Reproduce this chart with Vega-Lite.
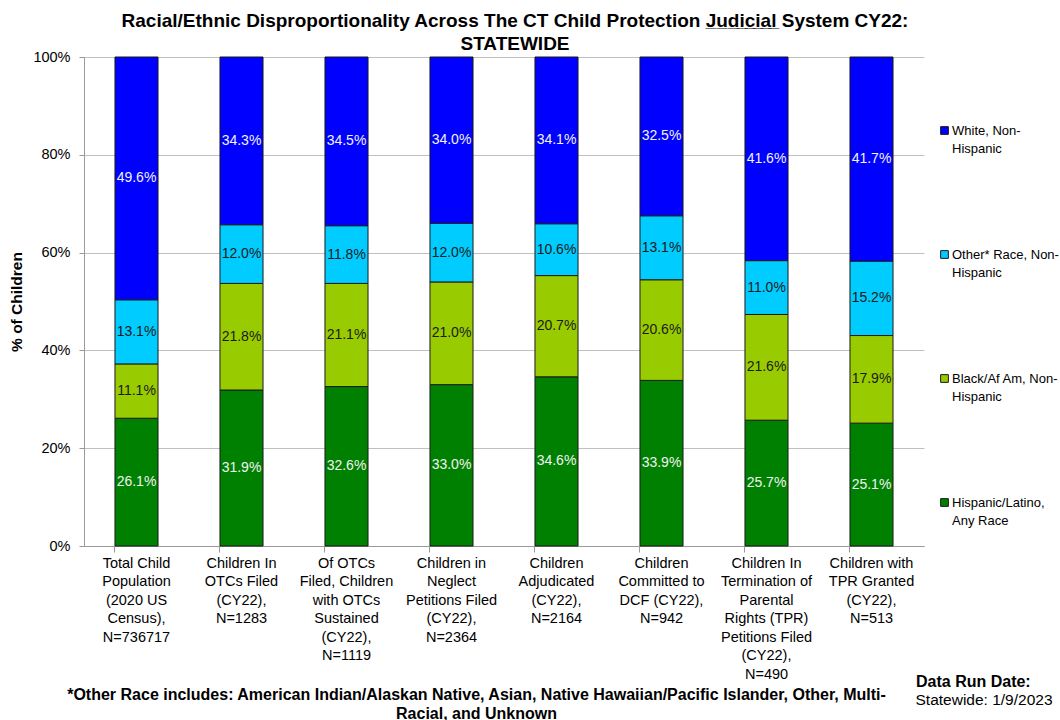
{
  "$schema": "https://vega.github.io/schema/vega-lite/v6.json",
  "autosize": "none",
  "width": 840,
  "height": 489,
  "padding": {"left": 84, "top": 57, "right": 136, "bottom": 174},
  "background": "white",
  "config": {"view": {"stroke": null}, "font": "Liberation Sans"},
  "title": {
    "text": ["Racial/Ethnic Disproportionality Across The CT Child Protection J̲u̲d̲i̲c̲i̲a̲l̲ System CY22:", "STATEWIDE"],
    "font": "Liberation Sans",
    "fontSize": 19,
    "fontWeight": "bold",
    "color": "black",
    "anchor": "middle",
    "dx": 11,
    "offset": -5,
    "lineHeight": 23
  },
  "datasets": {
    "main": [
      {"cat": "Total Child|Population|(2020 US|Census),|N=736717", "race": "Hispanic/Latino, Any Race", "share": 0.261},
      {"cat": "Total Child|Population|(2020 US|Census),|N=736717", "race": "Black/Af Am, Non-Hispanic", "share": 0.111},
      {"cat": "Total Child|Population|(2020 US|Census),|N=736717", "race": "Other* Race, Non-Hispanic", "share": 0.131},
      {"cat": "Total Child|Population|(2020 US|Census),|N=736717", "race": "White, Non-Hispanic", "share": 0.496},
      {"cat": "Children In|OTCs Filed|(CY22),|N=1283", "race": "Hispanic/Latino, Any Race", "share": 0.319},
      {"cat": "Children In|OTCs Filed|(CY22),|N=1283", "race": "Black/Af Am, Non-Hispanic", "share": 0.218},
      {"cat": "Children In|OTCs Filed|(CY22),|N=1283", "race": "Other* Race, Non-Hispanic", "share": 0.120},
      {"cat": "Children In|OTCs Filed|(CY22),|N=1283", "race": "White, Non-Hispanic", "share": 0.343},
      {"cat": "Of OTCs|Filed, Children|with OTCs|Sustained|(CY22),|N=1119", "race": "Hispanic/Latino, Any Race", "share": 0.326},
      {"cat": "Of OTCs|Filed, Children|with OTCs|Sustained|(CY22),|N=1119", "race": "Black/Af Am, Non-Hispanic", "share": 0.211},
      {"cat": "Of OTCs|Filed, Children|with OTCs|Sustained|(CY22),|N=1119", "race": "Other* Race, Non-Hispanic", "share": 0.118},
      {"cat": "Of OTCs|Filed, Children|with OTCs|Sustained|(CY22),|N=1119", "race": "White, Non-Hispanic", "share": 0.345},
      {"cat": "Children in|Neglect|Petitions Filed|(CY22),|N=2364", "race": "Hispanic/Latino, Any Race", "share": 0.330},
      {"cat": "Children in|Neglect|Petitions Filed|(CY22),|N=2364", "race": "Black/Af Am, Non-Hispanic", "share": 0.210},
      {"cat": "Children in|Neglect|Petitions Filed|(CY22),|N=2364", "race": "Other* Race, Non-Hispanic", "share": 0.120},
      {"cat": "Children in|Neglect|Petitions Filed|(CY22),|N=2364", "race": "White, Non-Hispanic", "share": 0.340},
      {"cat": "Children|Adjudicated|(CY22),|N=2164", "race": "Hispanic/Latino, Any Race", "share": 0.346},
      {"cat": "Children|Adjudicated|(CY22),|N=2164", "race": "Black/Af Am, Non-Hispanic", "share": 0.207},
      {"cat": "Children|Adjudicated|(CY22),|N=2164", "race": "Other* Race, Non-Hispanic", "share": 0.106},
      {"cat": "Children|Adjudicated|(CY22),|N=2164", "race": "White, Non-Hispanic", "share": 0.341},
      {"cat": "Children|Committed to|DCF (CY22),|N=942", "race": "Hispanic/Latino, Any Race", "share": 0.339},
      {"cat": "Children|Committed to|DCF (CY22),|N=942", "race": "Black/Af Am, Non-Hispanic", "share": 0.206},
      {"cat": "Children|Committed to|DCF (CY22),|N=942", "race": "Other* Race, Non-Hispanic", "share": 0.131},
      {"cat": "Children|Committed to|DCF (CY22),|N=942", "race": "White, Non-Hispanic", "share": 0.325},
      {"cat": "Children In|Termination of|Parental|Rights (TPR)|Petitions Filed|(CY22),|N=490", "race": "Hispanic/Latino, Any Race", "share": 0.257},
      {"cat": "Children In|Termination of|Parental|Rights (TPR)|Petitions Filed|(CY22),|N=490", "race": "Black/Af Am, Non-Hispanic", "share": 0.216},
      {"cat": "Children In|Termination of|Parental|Rights (TPR)|Petitions Filed|(CY22),|N=490", "race": "Other* Race, Non-Hispanic", "share": 0.110},
      {"cat": "Children In|Termination of|Parental|Rights (TPR)|Petitions Filed|(CY22),|N=490", "race": "White, Non-Hispanic", "share": 0.416},
      {"cat": "Children with|TPR Granted|(CY22),|N=513", "race": "Hispanic/Latino, Any Race", "share": 0.251},
      {"cat": "Children with|TPR Granted|(CY22),|N=513", "race": "Black/Af Am, Non-Hispanic", "share": 0.179},
      {"cat": "Children with|TPR Granted|(CY22),|N=513", "race": "Other* Race, Non-Hispanic", "share": 0.152},
      {"cat": "Children with|TPR Granted|(CY22),|N=513", "race": "White, Non-Hispanic", "share": 0.417}
    ],
    "note": [{"note": "Statewide: 1/9/2023"}]
  },
  "layer": [
    {
      "data": {"name": "main"},
      "transform": [
        {"stack": "share", "groupby": ["cat"], "offset": "normalize", "as": ["y0", "y1"]}
      ],
      "mark": {"type": "bar", "stroke": "#1a1a1a", "strokeWidth": 1},
      "encoding": {
        "x": {
          "field": "cat", "type": "nominal", "sort": null,
          "scale": {"paddingInner": 0.59, "paddingOuter": 0.295},
          "axis": {
            "labelAngle": 0,
            "labelExpr": "split(datum.label, '|')",
            "labelFont": "Liberation Sans",
            "labelFontSize": 14.5,
            "labelLineHeight": 18.5,
            "labelColor": "black",
            "labelPadding": 4,
            "labelBaseline": "top",
            "labelLimit": 200,
            "bandPosition": 0,
            "tickSize": 6,
            "tickColor": "#999999",
            "domainColor": "#999999",
            "grid": false,
            "title": ["*Other Race includes:  American Indian/Alaskan Native, Asian, Native Hawaiian/Pacific Islander, Other, Multi-", "Racial, and Unknown"],
            "titleFont": "Liberation Sans",
            "titleFontSize": 16,
            "titleFontWeight": "bold",
            "titleColor": "black",
            "titleLineHeight": 19,
            "titleBaseline": "top",
            "titleAlign": "center",
            "titleX": 392,
            "titleY": 140
          }
        },
        "y": {
          "field": "y0", "type": "quantitative",
          "scale": {"domain": [0, 1]},
          "axis": {
            "format": ".0%",
            "values": [0, 0.2, 0.4, 0.6, 0.8, 1],
            "labelFont": "Liberation Sans",
            "labelFontSize": 14.5,
            "labelColor": "black",
            "labelPadding": 9,
            "tickSize": 5,
            "tickColor": "#999999",
            "domainColor": "#999999",
            "gridColor": "#c0c0c0",
            "title": "% of Children",
            "titleFont": "Liberation Sans",
            "titleFontSize": 15.5,
            "titleFontWeight": "bold",
            "titleColor": "black",
            "titlePadding": 8
          }
        },
        "y2": {"field": "y1"},
        "color": {
          "field": "race", "type": "nominal",
          "scale": {
            "domain": ["White, Non-Hispanic", "Other* Race, Non-Hispanic", "Black/Af Am, Non-Hispanic", "Hispanic/Latino, Any Race"],
            "range": ["#0000FF", "#00CCFF", "#99CC00", "#008000"]
          },
          "legend": {
            "orient": "none",
            "legendX": 854,
            "legendY": 67,
            "title": null,
            "symbolType": "square",
            "symbolSize": 60,
            "symbolStrokeColor": "#1a1a1a",
            "symbolStrokeWidth": 1,
            "labelFont": "Liberation Sans",
            "labelFontSize": 13,
            "labelColor": "black",
            "labelOffset": 1,
            "labelBaseline": "alphabetic",
            "labelExpr": "datum.label == 'White, Non-Hispanic' ? ['White, Non-', 'Hispanic'] : datum.label == 'Other* Race, Non-Hispanic' ? ['Other* Race, Non-', 'Hispanic'] : datum.label == 'Black/Af Am, Non-Hispanic' ? ['Black/Af Am, Non-', 'Hispanic'] : ['Hispanic/Latino,', 'Any Race']",
            "rowPadding": 92,
            "encode": {"labels": {"update": {"lineHeight": {"value": 18}, "dy": {"value": 4}}}}
          }
        }
      }
    },
    {
      "data": {"name": "main"},
      "transform": [
        {"stack": "share", "groupby": ["cat"], "offset": "normalize", "as": ["y0", "y1"]},
        {"calculate": "(datum.y0 + datum.y1) / 2", "as": "ymid"}
      ],
      "mark": {"type": "text", "font": "Liberation Sans", "fontSize": 14, "baseline": "middle", "align": "center"},
      "encoding": {
        "x": {"field": "cat", "type": "nominal", "sort": null},
        "y": {"field": "ymid", "type": "quantitative"},
        "text": {"field": "share", "type": "quantitative", "format": ".1%"},
        "color": {
          "condition": {"test": "datum.race == 'Other* Race, Non-Hispanic' || datum.race == 'Black/Af Am, Non-Hispanic'", "value": "#1a1a1a"},
          "value": "#f2f2f2"
        }
      }
    },
    {
      "data": {"name": "note"},
      "mark": {"type": "point", "opacity": 0},
      "encoding": {
        "shape": {
          "field": "note", "type": "nominal",
          "legend": {
            "orient": "none",
            "legendX": 832,
            "legendY": 617,
            "title": "Data Run Date:",
            "titleFont": "Liberation Sans",
            "titleFontSize": 16,
            "titleFontWeight": "bold",
            "titleColor": "black",
            "titlePadding": 2,
            "symbolOpacity": 0,
            "symbolSize": 1,
            "labelOffset": -16,
            "labelFont": "Liberation Sans",
            "labelFontSize": 15.5,
            "labelColor": "black"
          }
        }
      }
    }
  ]
}
